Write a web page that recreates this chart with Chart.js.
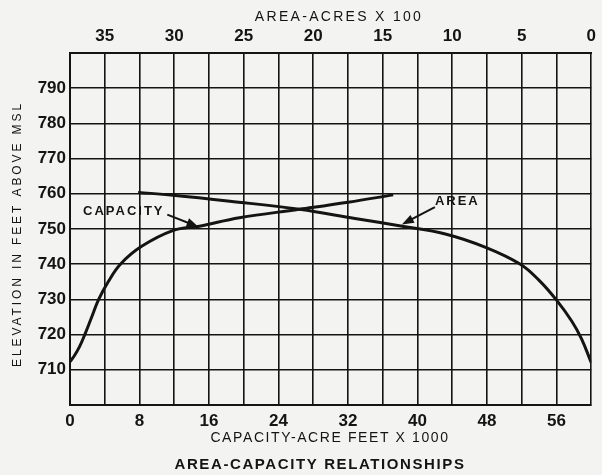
<!DOCTYPE html>
<html>
<head>
<meta charset="utf-8">
<script src="https://cdn.jsdelivr.net/npm/chart.js@4"></script>
<style>
  html, body { margin: 0; padding: 0; background: #f3f3f1; }
  canvas { display: block; }
</style>
</head>
<body>
<canvas id="areaCapacityChart" width="602" height="475"></canvas>
<script>
// capacity curve: acre-feet x 1000 against elevation
var capacityValues = [0, 0.5, 1.1, 1.7, 2.5, 3.3, 4.4, 5.8, 8.2, 11.9, 14.9, 19.5, 26.4, 32, 37.2];
var capacityElev = [712.3, 714, 716.6, 720, 725, 730, 735, 740, 745, 749.6, 750.8, 753.2, 755.6, 757.6, 759.7];

// area curve: acres x 100 against elevation
var areaValues = [0, 0.7, 1.4, 2.5, 3.75, 5.1, 7.6, 10.5, 13.6, 17, 21, 26, 30.1, 32.6];
var areaElev = [712, 718.8, 723.8, 729.8, 735.4, 740, 744.8, 748.6, 750.8, 753, 755.6, 757.9, 759.6, 760.4];

var capacityTicks = [0, 8, 16, 24, 32, 40, 48, 56];
var areaTicks = [0, 5, 10, 15, 20, 25, 30, 35];
var elevTicks = [710, 720, 730, 740, 750, 760, 770, 780, 790];

var ink = '#141414';
var tickFont = { family: 'Liberation Sans', size: 17, weight: 'bold' };

function toPoints(xs, ys) {
    return xs.map(function (v, i) { return { x: v, y: ys[i] }; });
}

function isTick(list, v) {
    return list.some(function (t) { return Math.abs(t - v) < 1e-6; });
}

// titles and curve call-outs, drawn with letter spacing
var paperText = {
    id: 'paperText',
    beforeDraw: function (chart) {
        var ctx = chart.ctx;
        ctx.save();
        ctx.fillStyle = '#f3f3f1';
        ctx.fillRect(0, 0, chart.width, chart.height);
        ctx.restore();
    },
    afterDraw: function (chart) {
        var ctx = chart.ctx;
        var xs = chart.scales.x;
        var ys = chart.scales.y;

        function text(str, x, y, font, spacing, align, rot) {
            ctx.save();
            ctx.font = font;
            ctx.fillStyle = ink;
            ctx.letterSpacing = spacing + 'px';
            ctx.textBaseline = 'middle';
            ctx.textAlign = align || 'center';
            ctx.translate(x, y);
            if (rot) ctx.rotate(rot);
            ctx.fillText(str, 0, 0);
            ctx.restore();
        }

        function arrow(fromX, fromY, toX, toY) {
            var x1 = xs.getPixelForValue(fromX), y1 = ys.getPixelForValue(fromY);
            var x2 = xs.getPixelForValue(toX), y2 = ys.getPixelForValue(toY);
            var a = Math.atan2(y2 - y1, x2 - x1);
            ctx.save();
            ctx.strokeStyle = ink;
            ctx.fillStyle = ink;
            ctx.lineWidth = 2;
            ctx.beginPath();
            ctx.moveTo(x1, y1);
            ctx.lineTo(x2 - 8 * Math.cos(a), y2 - 8 * Math.sin(a));
            ctx.stroke();
            ctx.beginPath();
            ctx.moveTo(x2, y2);
            ctx.lineTo(x2 - 12 * Math.cos(a) + 4.5 * Math.sin(a), y2 - 12 * Math.sin(a) - 4.5 * Math.cos(a));
            ctx.lineTo(x2 - 12 * Math.cos(a) - 4.5 * Math.sin(a), y2 - 12 * Math.sin(a) + 4.5 * Math.cos(a));
            ctx.closePath();
            ctx.fill();
            ctx.restore();
        }

        var area = chart.chartArea;

        text('AREA-ACRES X 100', 339, 17, '14px "Liberation Sans"', 2.3, 'center');
        text('CAPACITY-ACRE FEET X 1000', 330, 438, '14px "Liberation Sans"', 1.6, 'center');
        text('AREA-CAPACITY RELATIONSHIPS', 320, 465, 'bold 15px "Liberation Sans"', 1.6, 'center');
        text('ELEVATION IN FEET ABOVE MSL', 18, (area.top + area.bottom) / 2 + 5, '12px "Liberation Sans"', 2.9, 'center', -Math.PI / 2);

        text('CAPACITY', xs.getPixelForValue(1.5), ys.getPixelForValue(754.9), 'bold 13px "Liberation Sans"', 2, 'left');
        arrow(11.2, 754.1, 14.8, 750.6);
        text('AREA', xs.getPixelForValue(42), ys.getPixelForValue(757.7), 'bold 13px "Liberation Sans"', 2, 'left');
        arrow(42, 756.2, 38.2, 751.3);
    }
};

new Chart(document.getElementById('areaCapacityChart').getContext('2d'), {
    type: 'line',
    data: {
        datasets: [{
            label: 'Capacity',
            data: toPoints(capacityValues, capacityElev),
            xAxisID: 'x',
            yAxisID: 'y',
            borderColor: ink,
            borderWidth: 3,
            pointRadius: 0,
            tension: 0.4
        }, {
            label: 'Area',
            data: toPoints(areaValues, areaElev),
            xAxisID: 'x2',
            yAxisID: 'y',
            borderColor: ink,
            borderWidth: 3,
            pointRadius: 0,
            tension: 0.4
        }]
    },
    options: {
        responsive: false,
        animation: false,
        layout: { padding: { right: 9 } },
        plugins: {
            legend: { display: false },
            tooltip: { enabled: false }
        },
        scales: {
            x: {
                type: 'linear',
                position: 'bottom',
                min: 0,
                max: 60,
                ticks: {
                    stepSize: 4,
                    autoSkip: false,
                    maxRotation: 0,
                    padding: 6,
                    color: ink,
                    font: tickFont,
                    callback: function (v) { return isTick(capacityTicks, v) ? v : ''; }
                },
                grid: { color: ink, lineWidth: 1.6, drawTicks: false },
                border: { color: ink, width: 2 },
                afterFit: function (s) { s.height = 70; }
            },
            x2: {
                type: 'linear',
                position: 'top',
                reverse: true,
                min: 0,
                max: 37.5,
                ticks: {
                    stepSize: 2.5,
                    autoSkip: false,
                    maxRotation: 0,
                    padding: 6,
                    color: ink,
                    font: tickFont,
                    callback: function (v) { return isTick(areaTicks, v) ? v : ''; }
                },
                grid: { display: false, drawTicks: false },
                border: { color: ink, width: 2 },
                afterFit: function (s) { s.height = 53; }
            },
            y: {
                type: 'linear',
                min: 700,
                max: 800,
                ticks: {
                    stepSize: 10,
                    padding: 4,
                    color: ink,
                    font: tickFont,
                    callback: function (v) { return isTick(elevTicks, v) ? v : ''; }
                },
                grid: { color: ink, lineWidth: 1.6, drawTicks: false },
                border: { color: ink, width: 2 },
                afterFit: function (s) { s.width = 70; }
            }
        }
    },
    plugins: [paperText]
});
</script>
</body>
</html>
